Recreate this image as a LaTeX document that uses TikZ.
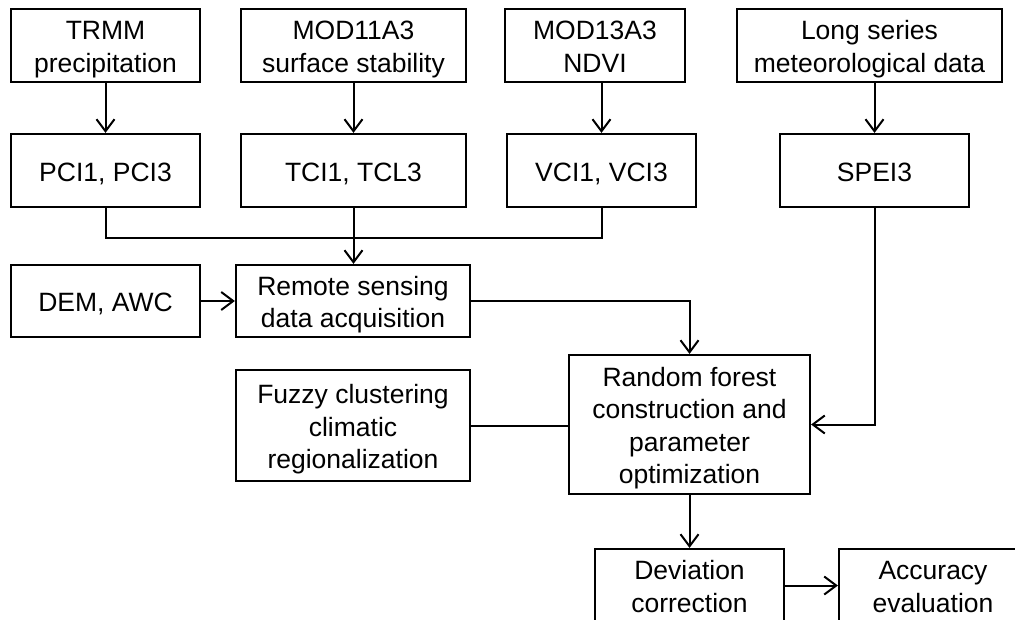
\documentclass[tikz,border=0pt]{standalone}
\usepackage{fontspec}
\setmainfont{Liberation Sans}
\usetikzlibrary{arrows.meta}
% centred stack of lines, drawn a little below the box middle
\newcommand\stacklines[1]{\raisebox{-4pt}[\height][\depth]{\setlength\tabcolsep{0pt}\begin{tabular}{c}#1\end{tabular}}}
\begin{document}
\begin{tikzpicture}[x=1pt,y=-1pt,
  box/.style={draw=black,line width=2.2pt,inner sep=0pt,
    font=\fontsize{26.5}{32.5}\selectfont},
  link/.style={line width=2pt,draw=black},
  arr/.style={link,-{Straight Barb[length=12pt,width=18pt,line width=2pt]}}]
\useasboundingbox (0,0) rectangle (1015,619);
\clip (0,0) rectangle (1015,619);

% data sources
\node[box,minimum width=189pt,minimum height=73pt] (trmm) at (105.5,45.5) {\stacklines{TRMM\\precipitation}};
\node[box,minimum width=225pt,minimum height=73pt] (mod11) at (353.5,45.5) {\stacklines{MOD11A3\\surface stability}};
\node[box,minimum width=180pt,minimum height=73pt] (mod13) at (595,45.5) {\stacklines{MOD13A3\\NDVI}};
\node[box,minimum width=265pt,minimum height=73pt] (long) at (869.5,45.5) {\stacklines{Long series\\meteorological data}};

% indices
\node[box,minimum width=189pt,minimum height=73pt] (pci) at (105.5,170.5) {\stacklines{PCI1, PCI3}};
\node[box,minimum width=225pt,minimum height=73pt] (tci) at (353.5,170.5) {\stacklines{TCI1, TCL3}};
\node[box,minimum width=189pt,minimum height=73pt] (vci) at (601.5,170.5) {\stacklines{VCI1, VCI3}};
\node[box,minimum width=189pt,minimum height=73pt] (spei) at (874.5,170.5) {\stacklines{SPEI3}};

% acquisition and modelling
\node[box,minimum width=189pt,minimum height=72pt] (dem) at (105.5,301) {\stacklines{DEM, AWC}};
\node[box,minimum width=234pt,minimum height=72pt] (remote) at (353,301) {\stacklines{Remote sensing\\data acquisition}};
\node[box,minimum width=234pt,minimum height=111pt] (fuzzy) at (353,425.5) {\stacklines{Fuzzy clustering\\climatic\\regionalization}};
\node[box,minimum width=241pt,minimum height=139pt] (rf) at (689.5,424.5) {\stacklines{Random forest\\construction and\\parameter\\optimization}};
\node[box,minimum width=189pt,minimum height=73pt] (dev) at (689.5,585.5) {\stacklines{Deviation\\correction}};
\node[box,minimum width=188pt,minimum height=73pt] (acc) at (933,585.5) {\stacklines{Accuracy\\evaluation}};

\coordinate (join) at (353.5,238);

% connectors
\draw[arr] (trmm) -- (pci);
\draw[arr] (mod11) -- (tci);
\draw[arr] (mod13.south -| vci.north) -- (vci);
\draw[arr] (long.south -| spei.north) -- (spei);
\draw[link] (pci.south) |- (join) -| (vci.south);
\draw[link] (tci.south) -- (join);
\draw[arr] (join) -- (remote.north -| join);
\draw[arr] (dem) -- (remote);
\draw[arr] (remote.east) -| (rf.north);
\draw[arr] (spei.south) |- (rf.east);
\draw[link] (fuzzy.east) -- (fuzzy.east -| rf.west);
\draw[arr] (rf) -- (dev);
\draw[arr] (dev) -- (acc);
\end{tikzpicture}
\end{document}
